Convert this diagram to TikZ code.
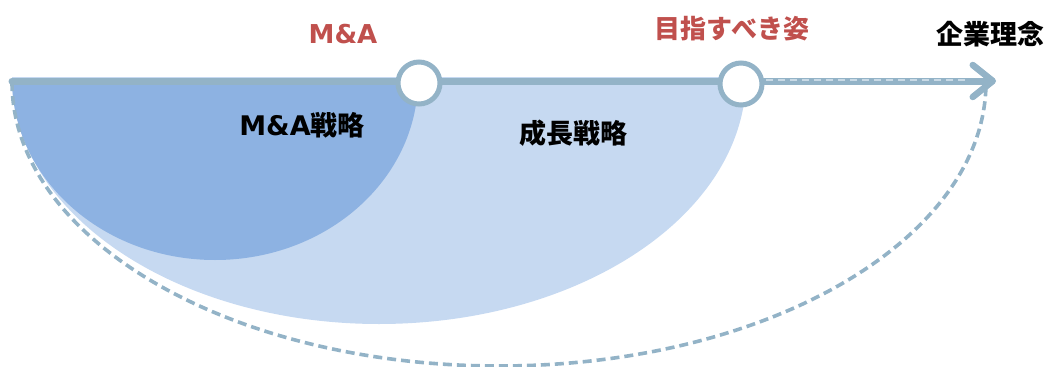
\documentclass[tikz,border=0pt]{standalone}
\usepackage{fontspec}
\usetikzlibrary{arrows.meta}
\newfontfamily\jp{Noto Sans CJK JP}
\newfontfamily\lat{DejaVu Sans}
\definecolor{axiscol}{HTML}{93B3C7}
\definecolor{darkfill}{HTML}{8DB2E2}
\definecolor{lightfill}{HTML}{C6D9F1}
\definecolor{redtxt}{HTML}{C0504D}
\definecolor{dashlight}{HTML}{C9DAE6}
\tikzset{
  axisline/.style={draw=axiscol, line width=7pt, line cap=round},
  milestone/.style={circle, draw=axiscol, line width=5pt, fill=white, minimum size=42pt, inner sep=0pt},
  dashcurve/.style={draw=axiscol, line width=3.6pt, dash pattern=on 9pt off 5pt},
  redlabel/.style={text=redtxt, font=\jp\bfseries\fontsize{26}{30}\selectfont, inner sep=0pt},
  blacklabel/.style={text=black, font=\jp\bfseries\fontsize{27}{30}\selectfont, inner sep=0pt},
}
\begin{document}
\begin{tikzpicture}[x=1pt,y=-1pt]
\useasboundingbox (0,0) rectangle (1053,367);
% shapes
\fill[lightfill] (12,77) arc[start angle=180, end angle=0, x radius=367, y radius=247] -- cycle;
\fill[darkfill] (12,79) arc[start angle=180, end angle=0, x radius=203, y radius=181] -- cycle;
\coordinate (ds) at (12,82);
\draw[dashcurve] (ds) arc[start angle=180, end angle=0, x radius=487, y radius=284];
% axis
\coordinate (start) at (12,81);
\coordinate (tip) at (996,81);
\draw[axisline, -{Straight Barb[length=20pt, width=32pt, line width=6.5pt, round]}] (start) -- (tip);
\coordinate (dl1) at (766,80);
\coordinate (dl2) at (968,80);
\draw[dashlight, line width=1.5pt, dash pattern=on 7pt off 5pt] (dl1) -- (dl2);
% milestones
\node[milestone] (c1) at (419,83) {};
\node[milestone] (c2) at (741,84) {};
% labels
\node[redlabel, font=\lat\bfseries\fontsize{26}{30}\selectfont] (ma) at (343,34) {M\&A};
\node[redlabel] (goal) at (732,29) {目指すべき姿};
\node[blacklabel] (philo) at (990,34) {企業理念};
\node[blacklabel] (mast) at (302,125) {{\lat M\&A}戦略};
\node[blacklabel] (grow) at (573,133) {成長戦略};
\end{tikzpicture}
\end{document}
